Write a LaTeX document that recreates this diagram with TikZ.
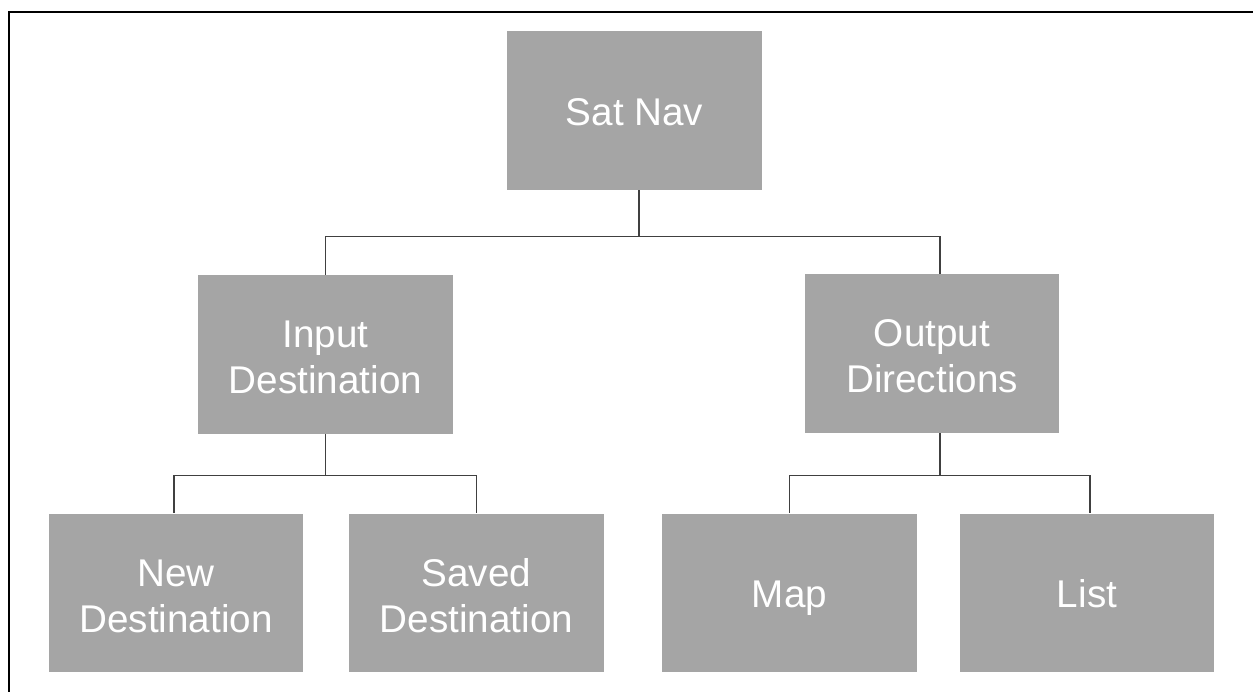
\documentclass[tikz,border=0pt]{standalone}
\usepackage{fontspec}
\setmainfont{Liberation Sans}
\usepackage{tikz}
\usetikzlibrary{positioning,calc}
\definecolor{navbox}{HTML}{A5A5A5}
\definecolor{navline}{HTML}{404040}
\newcommand{\navstrut}{\rule[-4.7pt]{0pt}{26.2pt}}
\newcommand{\navtop}{\rule[-4.7pt]{0pt}{28pt}}

\begin{document}
\begin{tikzpicture}[x=0.02cm,y=-0.02cm,
  box/.style={fill=navbox,draw=none,inner sep=0pt,minimum width=5.1cm,minimum height=3.18cm,
    align=center,text=white,font=\fontsize{22}{26.2}\selectfont,
    execute at begin node=\navstrut,execute at end node=\navstrut},
  conn/.style={draw=navline,line width=0.85pt}]
\useasboundingbox (0,0) rectangle (1253,692);
\draw[line width=1.5pt] (9,692) -- (9,12) -- (1253,12);
\node[box] (satnav) at (634.5,110.5) {Sat Nav};
\node[box] (input) at (325.5,354.5) {\navtop Input\\Destination};
\node[box] (output) at (932,353.5) {\navtop Output\\Directions};
\node[box] (newdest) at (176,593) {\navtop New\\Destination};
\node[box] (saved) at (476.5,593) {\navtop Saved\\Destination};
\node[box] (map) at (789.5,593) {Map};
\node[box] (list) at (1087,593) {List};
\draw[conn] ([xshift=0.09cm]satnav.south) -- ++(0,46) -| (input.north);
\draw[conn] ([xshift=0.09cm]satnav.south) -- ++(0,46) -| ([xshift=0.16cm]output.north);
\draw[conn] (input.south) -- ++(0,41) -| ([xshift=-0.04cm]newdest.north);
\draw[conn] (input.south) -- ++(0,41) -| (saved.north);
\draw[conn] ([xshift=0.16cm]output.south) -- ++(0,42) -| (map.north);
\draw[conn] ([xshift=0.16cm]output.south) -- ++(0,42) -| ([xshift=0.06cm]list.north);
\end{tikzpicture}
\end{document}
